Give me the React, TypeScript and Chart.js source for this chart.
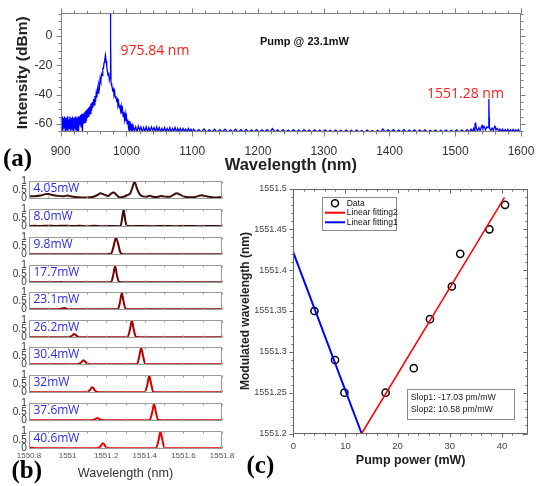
import React, { useEffect, useRef } from "react";
import { Chart, registerables } from "chart.js";
Chart.register(...registerables);

const SANS = '"Liberation Sans", Arial, sans-serif';
const SERIF = '"Liberation Serif", "Times New Roman", serif';
const OPEN = '"Open Sans", "Liberation Sans", sans-serif';

// ---------------- (a) spectrum ----------------
const spectrum: [number, number][] = [
  [900,-56],[901,-64],[902,-55],[903,-65.5],[904,-56],[905,-63],[906,-55],[907,-65.5],[908,-56],[909,-64],[910,-55],[911,-65.5],[912,-57],[913,-63],[914,-55],[915,-65.5],[916,-56],[917,-64],[918,-55],[919,-65.5],[920,-56],[921,-63],[922,-55],[923,-64.5],[924,-56],[925,-65.5],[926,-55],[927,-66],[928,-55],
  [929,-61],[930,-54],[931,-62],[932,-53],[933,-66],[934,-53],[935,-60],[936,-52],[937,-59],[938,-51],[939,-58],[940,-50],[941,-56],[942,-49],[943,-55],[944,-48],[945,-53],[946,-46],[947,-51],[948,-45],[949,-49],[950,-43],[951,-47],[952,-41],[953,-45],[954,-39],[955,-42],[956,-36],[957,-39],[958,-33],[959,-35],[960,-29],[961,-31],[962,-26],[963,-27],[964,-22],[965,-22],[966,-18],[967,-16],[968,-13],[969,-17],[970,-21],[971,-24],[972,-27],[973,-25],[974,-30],[975,-28],[975.5,0],[975.84,15],[976.2,0],[976.6,-32],[977,-34],
  [978,-33],[979,-37],[980,-36],[981,-40],[982,-38],[983,-42],[984,-41],[985,-44],[986,-43],[987,-47],[988,-45],[989,-49],[990,-47],[991,-51],[992,-48],[993,-53],[994,-50],[995,-55],[996,-52],[997,-57],[998,-53],[999,-58],[1000,-55],[1001,-60],[1002,-57],[1003,-62],[1004,-58],[1005,-66],[1006,-59],[1007,-64],[1008,-60],[1009,-65],[1010,-61],
  [1012,-65],[1014,-62],[1016,-65.5],[1018,-61.5],[1020,-64.5],[1022,-62],[1024,-65.5],[1026,-62.5],[1028,-65],[1030,-62],[1032,-65.5],[1034,-62.5],[1036,-65],[1038,-62],[1040,-64.5],[1042,-62.5],[1044,-65.5],[1046,-62],[1048,-65],[1050,-62.5],[1052,-65.5],[1054,-63],[1056,-65],[1058,-62.5],[1060,-65.5],[1062,-63],[1064,-65],[1066,-62.5],[1068,-65.5],[1070,-63],[1072,-65],[1074,-62.5],[1076,-65.5],[1078,-63],[1080,-65],[1082,-63],[1084,-65.5],[1086,-63],[1088,-65],[1090,-63.5],[1092,-65.5],[1094,-63],[1096,-65],[1098,-63.5],[1100,-65.5],
  [1102,-63.5],[1106,-65.5],[1110,-63.8],[1114,-65.5],[1118,-63.4],[1122,-65.6],[1126,-63.9],[1130,-65.4],[1134,-63.6],[1138,-65.6],[1142,-63.8],[1146,-65.5],[1150,-63.5],[1154,-65.6],[1158,-64],[1162,-65.5],[1166,-63.6],[1170,-65.6],[1174,-63.9],[1178,-65.5],[1182,-63.7],[1186,-65.6],[1190,-64],[1194,-65.5],[1198,-63.8],[1202,-65.6],[1206,-64],[1210,-65.5],[1214,-63.9],[1218,-65.6],[1222,-63.2],[1226,-65.5],[1230,-64],[1234,-65.6],[1238,-63.8],[1242,-65.5],[1246,-64.1],[1250,-65.6],[1254,-63.9],[1258,-65.5],[1262,-64.1],[1266,-65.6],[1270,-63.8],[1274,-65.5],[1278,-64.2],[1282,-65.6],[1286,-64],[1290,-65.5],[1294,-64.2],[1298,-65.6],[1302,-64],[1306,-65.5],[1310,-64.3],[1314,-65.6],[1318,-64.1],[1322,-65.5],[1326,-64.3],[1330,-65.6],[1334,-64.1],[1338,-65.5],[1342,-64.3],[1346,-65.6],[1350,-64.2],[1354,-65.5],[1358,-64.4],[1362,-65.6],[1366,-64.2],[1370,-65.5],[1374,-64.4],[1378,-65.6],[1382,-64.3],[1386,-65.7],[1390,-63.5],[1394,-65.6],[1398,-64],[1402,-65.5],[1406,-63.9],[1410,-65.6],[1414,-64.1],[1418,-65.5],[1422,-63.9],[1426,-65.6],[1430,-64.2],[1434,-65.5],[1438,-64],[1442,-65.6],[1446,-64.2],[1450,-65.5],[1454,-64],[1458,-65.6],[1462,-64.3],[1466,-65.5],[1470,-64.1],[1474,-65.6],[1478,-64.3],[1482,-65.5],[1486,-64.1],[1490,-65.6],[1494,-64.3],[1498,-65.5],[1502,-64],[1506,-65.6],[1510,-64.2],[1514,-65.5],[1518,-63.8],[1522,-65.5],
  [1524,-63.5],[1526,-65.2],[1528,-63],[1529,-64.5],[1530,-60],[1531,-59.5],[1532,-62.5],[1534,-65],[1536,-62.5],[1538,-64.5],[1540,-61.5],[1541,-61],[1542,-63],[1544,-61.8],[1546,-64],[1548,-62],[1550,-62.5],[1550.9,-56],[1551.28,-43],[1551.7,-56],[1552,-62.5],[1554,-64.5],[1556,-62.8],[1558,-64.5],[1560,-61.5],[1561,-62],[1562,-64],[1564,-63],[1566,-65],[1568,-63.5],[1570,-65.2],[1572,-63.5],[1574,-65.3],[1576,-63.8],[1578,-65.2],[1580,-63.6],[1582,-65.4],[1584,-63.9],[1586,-65.3],[1588,-63.7],[1590,-65.4],[1592,-64],[1594,-65.3],[1596,-63.8],[1598,-65.4],[1600,-64],
];
const spectrumXTicks = [900, 1000, 1100, 1200, 1300, 1400, 1500, 1600];
const spectrumYTicks = [-60, -40, -20, 0];
const pumpPeakLabel = "975.84 nm";
const signalPeakLabel = "1551.28 nm";
const pumpNote = "Pump @ 23.1mW";

// ---------------- (b) wavelength sweep ----------------
const sweepLabels = ["4.05mW", "8.0mW", "9.8mW", "17.7mW", "23.1mW", "26.2mW", "30.4mW", "32mW", "37.6mW", "40.6mW"];
const sweepColors = ["#3b0d0d", "#450808", "#650606", "#740404", "#8a0202", "#a30000", "#b80000", "#cc0000", "#e00000", "#f50000"];
const sweep405: [number, number][] = [[1550.80,0.12],[1550.83,0.13],[1550.86,0.17],[1550.885,0.25],[1550.90,0.26],[1550.92,0.2],[1550.95,0.15],[1550.98,0.13],[1551.00,0.17],[1551.015,0.13],[1551.04,0.08],[1551.07,0.06],[1551.10,0.06],[1551.13,0.09],[1551.155,0.2],[1551.17,0.3],[1551.19,0.22],[1551.21,0.14],[1551.225,0.28],[1551.24,0.34],[1551.255,0.18],[1551.27,0.06],[1551.29,0.1],[1551.31,0.2],[1551.325,0.3],[1551.335,0.6],[1551.347,0.95],[1551.36,0.55],[1551.375,0.22],[1551.39,0.12],[1551.41,0.1],[1551.425,0.16],[1551.44,0.1],[1551.465,0.09],[1551.485,0.14],[1551.50,0.11],[1551.53,0.1],[1551.55,0.22],[1551.565,0.3],[1551.58,0.24],[1551.60,0.12],[1551.63,0.07],[1551.66,0.08],[1551.68,0.15],[1551.695,0.18],[1551.71,0.15],[1551.73,0.1],[1551.76,0.06],[1551.80,0.08]];
const sweep80: [number, number][] = [[1550.80,0.02],[1550.83,0.04],[1550.86,0.03],[1550.90,0.05],[1550.94,0.03],[1550.98,0.05],[1551.02,0.03],[1551.06,0.04],[1551.10,0.02],[1551.14,0.04],[1551.18,0.02],[1551.22,0.03],[1551.26,0.02],[1551.275,0.06],[1551.283,0.5],[1551.29,0.98],[1551.297,0.5],[1551.305,0.06],[1551.33,0.02],[1551.38,0.03],[1551.44,0.02],[1551.5,0.03],[1551.56,0.02],[1551.62,0.03],[1551.68,0.02],[1551.74,0.03],[1551.80,0.02]];
const sweep98: [number, number][] = [[1550.80,0.01],[1550.9,0.01],[1551.0,0.01],[1551.1,0.01],[1551.2,0.01],[1551.225,0.04],[1551.238,0.45],[1551.25,0.95],[1551.262,0.6],[1551.272,0.15],[1551.285,0.02],[1551.35,0.01],[1551.5,0.01],[1551.65,0.01],[1551.80,0.01]];
const sweep177: [number, number][] = [[1550.80,0.01],[1550.95,0.01],[1550.965,0.03],[1550.98,0.01],[1551.1,0.01],[1551.225,0.02],[1551.237,0.45],[1551.246,0.95],[1551.255,0.45],[1551.266,0.03],[1551.3,0.01],[1551.5,0.01],[1551.8,0.01]];
const sweep231: [number, number][] = [[1550.80,0.01],[1550.95,0.01],[1550.97,0.06],[1550.985,0.08],[1551.0,0.02],[1551.1,0.01],[1551.26,0.02],[1551.272,0.45],[1551.281,0.95],[1551.29,0.45],[1551.301,0.03],[1551.35,0.01],[1551.8,0.01]];
const sweep262: [number, number][] = [[1550.80,0.01],[1551.0,0.01],[1551.02,0.08],[1551.035,0.2],[1551.05,0.07],[1551.07,0.01],[1551.31,0.02],[1551.324,0.5],[1551.333,0.98],[1551.342,0.5],[1551.354,0.03],[1551.4,0.01],[1551.8,0.01]];
const sweep304: [number, number][] = [[1550.80,0.01],[1551.05,0.01],[1551.068,0.1],[1551.083,0.25],[1551.098,0.08],[1551.115,0.01],[1551.36,0.02],[1551.372,0.5],[1551.381,0.95],[1551.39,0.55],[1551.402,0.03],[1551.45,0.01],[1551.8,0.01]];
const sweep32: [number, number][] = [[1550.80,0.01],[1551.09,0.01],[1551.112,0.1],[1551.128,0.3],[1551.143,0.1],[1551.16,0.01],[1551.40,0.02],[1551.414,0.5],[1551.423,0.95],[1551.432,0.55],[1551.444,0.03],[1551.5,0.01],[1551.8,0.01]];
const sweep376: [number, number][] = [[1550.80,0.01],[1551.12,0.01],[1551.14,0.06],[1551.154,0.15],[1551.168,0.06],[1551.185,0.01],[1551.425,0.02],[1551.439,0.5],[1551.448,0.95],[1551.457,0.5],[1551.469,0.03],[1551.52,0.01],[1551.8,0.01]];
const sweep406: [number, number][] = [[1550.80,0.03],[1550.815,0.05],[1550.83,0.02],[1550.9,0.01],[1551.15,0.01],[1551.168,0.1],[1551.183,0.3],[1551.198,0.1],[1551.215,0.01],[1551.458,0.02],[1551.472,0.5],[1551.481,0.98],[1551.49,0.55],[1551.502,0.03],[1551.55,0.01],[1551.8,0.01]];
const sweepSeries = [sweep405, sweep80, sweep98, sweep177, sweep231, sweep262, sweep304, sweep32, sweep376, sweep406];
const sweepXTicks = [1550.8, 1551, 1551.2, 1551.4, 1551.6, 1551.8];
const sweepYTicks = [0, 0.5, 1];

// ---------------- (c) tuning ----------------
const pumpPower = [4.05, 8.0, 9.8, 17.7, 23.1, 26.2, 30.4, 32, 37.6, 40.6];
const modWavelength = [1551.35, 1551.29, 1551.25, 1551.25, 1551.28, 1551.34, 1551.38, 1551.42, 1551.45, 1551.48];
const fit1Power = [0, 13.1];
const fit1Wl = [1551.4218, 1551.2];
const fit2Power = [13.1, 40.5];
const fit2Wl = [1551.2, 1551.489];
const powerTicks = [0, 10, 20, 30, 40];
const wlTicks = [1551.2, 1551.25, 1551.3, 1551.35, 1551.4, 1551.45, 1551.5];
const slopeNotes = ["Slop1: -17.03 pm/mW", "Slop2: 10.58 pm/mW"];

// ---------------- helpers ----------------
function steps(a: number, b: number, s: number) {
  const out: number[] = [];
  const n = Math.round((b - a) / s);
  for (let i = 0; i <= n; i++) out.push(+(a + i * s).toFixed(6));
  return out;
}

type FrameOpts = {
  color: string; xMajor: number[]; xMinor: number[]; yMajor: number[]; yMinor: number[];
  maj: number; min: number; top: number; bottom: number; left: number; right: number;
};
function framePlugin(o: FrameOpts) {
  return {
    id: "frame",
    afterDatasetsDraw(chart: any) {
      const { ctx, chartArea: a, scales } = chart;
      const L = Math.round(a.left) + 0.5, R = Math.round(a.right) - 0.5;
      const T = Math.round(a.top) + 0.5, B = Math.round(a.bottom) - 0.5;
      ctx.save();
      ctx.strokeStyle = o.color;
      ctx.lineWidth = 1;
      ctx.beginPath();
      ctx.rect(L, T, R - L, B - T);
      const xt = (vals: number[], len: number) => vals.forEach((v) => {
        const p = Math.round(scales.x.getPixelForValue(v)) + 0.5;
        if (p < L - 1 || p > R + 1) return;
        if (o.bottom) { ctx.moveTo(p, B); ctx.lineTo(p, B + o.bottom * len); }
        if (o.top) { ctx.moveTo(p, T); ctx.lineTo(p, T - o.top * len); }
      });
      const yt = (vals: number[], len: number) => vals.forEach((v) => {
        const p = Math.round(scales.y.getPixelForValue(v)) + 0.5;
        if (p < T - 1 || p > B + 1) return;
        if (o.left) { ctx.moveTo(L, p); ctx.lineTo(L - o.left * len, p); }
        if (o.right) { ctx.moveTo(R, p); ctx.lineTo(R + o.right * len, p); }
      });
      xt(o.xMinor, o.min); xt(o.xMajor, o.maj);
      yt(o.yMinor, o.min); yt(o.yMajor, o.maj);
      ctx.stroke();
      ctx.restore();
    },
  };
}

type Txt = { text: string; x: number; y: number; font: string; color: string; align?: CanvasTextAlign };
function textPlugin(items: Txt[]) {
  return {
    id: "texts",
    afterDraw(chart: any) {
      const ctx = chart.ctx;
      ctx.save();
      items.forEach((t) => {
        ctx.font = t.font;
        ctx.fillStyle = t.color;
        ctx.textAlign = t.align ?? "left";
        ctx.textBaseline = "middle";
        ctx.fillText(t.text, t.x, t.y);
      });
      ctx.restore();
    },
  };
}

const base = {
  animation: false as const,
  responsive: false,
  devicePixelRatio: 1,
  events: [] as any[],
  plugins: { legend: { display: false }, tooltip: { enabled: false } },
};
const noGrid = { display: false, drawTicks: false, tickLength: 0 };
const fixW = (w: number) => (s: any) => { s.width = w; s.paddingTop = 0; s.paddingBottom = 0; };
const fixH = (h: number) => (s: any) => { s.height = h; s.paddingLeft = 0; s.paddingRight = 0; };

function ChartBox({ left, top, width, height, build }: { left: number; top: number; width: number; height: number; build: () => any }) {
  const ref = useRef<HTMLCanvasElement>(null);
  useEffect(() => {
    const chart = new Chart(ref.current as HTMLCanvasElement, build());
    return () => chart.destroy();
  }, []);
  return <canvas ref={ref} width={width} height={height} style={{ position: "absolute", left, top, width, height }} />;
}

// ---------------- chart builders ----------------
function buildSpectrum() {
  return {
    type: "line",
    data: {
      datasets: [{
        data: spectrum.map(([x, y]) => ({ x, y })),
        borderColor: "#0000ff", borderWidth: 1.25, pointRadius: 0, tension: 0, clip: 0,
      }],
    },
    options: {
      ...base,
      layout: { padding: { left: 0, right: 20, top: 13.3, bottom: 0 } },
      scales: {
        x: {
          type: "linear", min: 900, max: 1600,
          grid: noGrid, border: { display: false },
          afterBuildTicks: (s: any) => { s.ticks = spectrumXTicks.map((v) => ({ value: v })); },
          afterFit: fixH(49.7),
          ticks: { font: { family: SANS, size: 12, lineHeight: 1 }, color: "#333", padding: 13.4, maxRotation: 0, autoSkip: false, callback: (v: any) => String(v) },
          title: { display: true, text: "Wavelength (nm)", color: "#222", font: { family: SANS, size: 16.5, weight: "bold", lineHeight: 1 }, padding: { top: 0, bottom: 8.5 } },
        },
        y: {
          type: "linear", min: -65.7, max: 15.5,
          grid: noGrid, border: { display: false },
          afterBuildTicks: (s: any) => { s.ticks = spectrumYTicks.map((v) => ({ value: v })); },
          afterFit: fixW(60.7),
          ticks: { font: { family: SANS, size: 12.5, lineHeight: 1 }, color: "#333", padding: 8.2, autoSkip: false, callback: (v: any) => String(v) },
          title: { display: true, text: "Intensity (dBm)", color: "#222", font: { family: SANS, size: 15.5, weight: "bold", lineHeight: 1 }, padding: { top: 15, bottom: 0 } },
        },
      },
    },
    plugins: [
      framePlugin({ color: "#808080", xMajor: spectrumXTicks, xMinor: steps(900, 1600, 20), yMajor: spectrumYTicks, yMinor: steps(-65, 15, 5), maj: 5, min: 3, top: 1, bottom: 1, left: 1, right: 1 }),
      textPlugin([
        { text: pumpPeakLabel, x: 120.5, y: 51.5, font: `14px ${OPEN}`, color: "#ff1a1a" },
        { text: signalPeakLabel, x: 427, y: 93.6, font: `14px ${OPEN}`, color: "#ff1a1a" },
        { text: pumpNote, x: 260, y: 42, font: `bold 11px ${SANS}`, color: "#111" },
        { text: "(a)", x: 3, y: 160, font: `bold 25px ${SERIF}`, color: "#000" },
      ]),
    ],
  };
}

const bTops = [181, 209, 237, 265, 292, 320, 347, 375, 403, 431];
const B_H = 17.5;
const B_W = 240;

function buildSweep(i: number, canvasH: number) {
  const last = i === sweepSeries.length - 1;
  const texts: Txt[] = [{ text: sweepLabels[i], x: 33.5, y: 16, font: `12px ${OPEN}`, color: "#2a2aee" }];
  if (last) texts.push({ text: "(b)", x: 11.5, y: 49, font: `bold 25px ${SERIF}`, color: "#000" });
  return {
    type: "line",
    data: {
      datasets: [{
        data: sweepSeries[i].map(([x, y]) => ({ x, y })),
        borderColor: sweepColors[i], borderWidth: 2, pointRadius: 0, cubicInterpolationMode: "monotone",
      }],
    },
    options: {
      ...base,
      layout: { padding: { left: 0, right: B_W - 222, top: 8, bottom: last ? 0 : canvasH - 8 - B_H } },
      scales: {
        x: {
          type: "linear", min: 1550.8, max: 1551.8, display: last,
          grid: noGrid, border: { display: false },
          afterBuildTicks: (s: any) => { s.ticks = sweepXTicks.map((v) => ({ value: v })); },
          afterFit: fixH(last ? canvasH - 8 - B_H : 0),
          ticks: { font: { family: SANS, size: 8, lineHeight: 1 }, color: "#555", padding: 3.7, maxRotation: 0, autoSkip: false, callback: (v: any) => String(Math.round(v * 10) / 10) },
          title: { display: true, text: "Wavelength (nm)", color: "#333", font: { family: SANS, size: 12.6, lineHeight: 1 }, padding: { top: 0, bottom: 6.4 } },
        },
        y: {
          type: "linear", min: 0, max: 1,
          grid: noGrid, border: { display: false },
          afterBuildTicks: (s: any) => { s.ticks = sweepYTicks.map((v) => ({ value: v })); },
          afterFit: fixW(29),
          ticks: { font: { family: SANS, size: 10, lineHeight: 1 }, color: "#333", padding: 2.3, autoSkip: false, callback: (v: any) => String(v) },
        },
      },
    },
    plugins: [
      framePlugin({ color: "#9a9a9a", xMajor: steps(1550.8, 1551.8, 0.1), xMinor: [], yMajor: [], yMinor: [], maj: 2, min: 0, top: -1, bottom: -1, left: 0, right: 0 }),
      textPlugin(texts),
    ],
  };
}

function buildTuning() {
  const legendPlugin = {
    id: "customLegend",
    afterDraw(chart: any) {
      const ctx = chart.ctx;
      const ds = chart.data.datasets;
      ctx.save();
      ctx.strokeStyle = "#8a8a8a"; ctx.lineWidth = 1;
      ctx.strokeRect(86.5, 22.5, 74, 33);
      ctx.font = `8.5px ${SANS}`; ctx.fillStyle = "#111"; ctx.textBaseline = "middle"; ctx.textAlign = "left";
      const dData = ds[2];
      ctx.beginPath(); ctx.strokeStyle = dData.borderColor; ctx.lineWidth = 1.5;
      ctx.arc(99, 28.3, 3.5, 0, Math.PI * 2); ctx.stroke();
      ctx.fillText(dData.label, 110.7, 28.6);
      [[ds[0], 37.7], [ds[1], 47.3]].forEach(([d, y]: any) => {
        ctx.beginPath(); ctx.strokeStyle = d.borderColor; ctx.lineWidth = 2;
        ctx.moveTo(89, y); ctx.lineTo(109, y); ctx.stroke();
        ctx.fillText(d.label, 110.7, y + 0.3);
      });
      ctx.strokeStyle = "#8a8a8a"; ctx.lineWidth = 1;
      ctx.strokeRect(171.5, 214.5, 107, 30);
      ctx.font = `8.8px ${SANS}`; ctx.fillStyle = "#222";
      ctx.fillText(slopeNotes[0], 174.7, 222.5);
      ctx.fillText(slopeNotes[1], 174.7, 234.5);
      ctx.restore();
    },
  };
  return {
    type: "scatter",
    data: {
      datasets: [
        { label: "Linear fitting2", data: fit2Power.map((x, k) => ({ x, y: fit2Wl[k] })), showLine: true, borderColor: "#ff0000", borderWidth: 1.5, pointRadius: 0 },
        { label: "Linear fitting1", data: fit1Power.map((x, k) => ({ x, y: fit1Wl[k] })), showLine: true, borderColor: "#0000ff", borderWidth: 2, pointRadius: 0 },
        { label: "Data", data: pumpPower.map((x, k) => ({ x, y: modWavelength[k] })), showLine: false, pointStyle: "circle", pointRadius: 3.6, borderColor: "#000", borderWidth: 1.5, backgroundColor: "rgba(0,0,0,0)", clip: false },
      ],
    },
    options: {
      ...base,
      layout: { padding: { left: 0, right: 13, top: 13.5, bottom: 0 } },
      scales: {
        x: {
          type: "linear", min: 0, max: 45,
          grid: noGrid, border: { display: false },
          afterBuildTicks: (s: any) => { s.ticks = powerTicks.map((v) => ({ value: v })); },
          afterFit: fixH(52.5),
          ticks: { font: { family: SANS, size: 9.5, lineHeight: 1 }, color: "#444", padding: 8.4, maxRotation: 0, autoSkip: false, callback: (v: any) => String(v) },
          title: { display: true, text: "Pump power (mW)", color: "#222", font: { family: SANS, size: 12.5, weight: "bold", lineHeight: 1 }, padding: { top: 0, bottom: 19 } },
        },
        y: {
          type: "linear", min: 1551.2, max: 1551.5,
          grid: noGrid, border: { display: false },
          afterBuildTicks: (s: any) => { s.ticks = wlTicks.map((v) => ({ value: v })); },
          afterFit: fixW(57.3),
          ticks: { font: { family: SANS, size: 9, lineHeight: 1 }, color: "#444", padding: 6.6, autoSkip: false, callback: (v: any) => String(v) },
          title: { display: true, text: "Modulated wavelength (nm)", color: "#222", font: { family: SANS, size: 12, weight: "bold", lineHeight: 1 }, padding: { top: 4, bottom: 0 } },
        },
      },
    },
    plugins: [
      framePlugin({ color: "#666", xMajor: powerTicks, xMinor: steps(0, 44, 2), yMajor: wlTicks, yMinor: steps(1551.2, 1551.5, 0.01), maj: 4, min: 2, top: -1, bottom: 1, left: 1, right: -1 }),
      legendPlugin,
      textPlugin([{ text: "(c)", x: 10.5, y: 291.5, font: `bold 25px ${SERIF}`, color: "#000" }]),
    ],
  };
}

export default function App() {
  return (
    <div style={{ position: "fixed", left: 0, top: 0, width: 541, height: 486, background: "#fff", overflow: "hidden" }}>
      <ChartBox left={0} top={0} width={541} height={182} build={buildSpectrum} />
      <ChartBox left={236} top={175} width={305} height={311} build={buildTuning} />
      {bTops.map((t, i) => {
        const last = i === bTops.length - 1;
        const h = last ? 486 - (t - 8) : 34;
        return <ChartBox key={i} left={0} top={t - 8} width={B_W} height={h} build={() => buildSweep(i, h)} />;
      })}
    </div>
  );
}
